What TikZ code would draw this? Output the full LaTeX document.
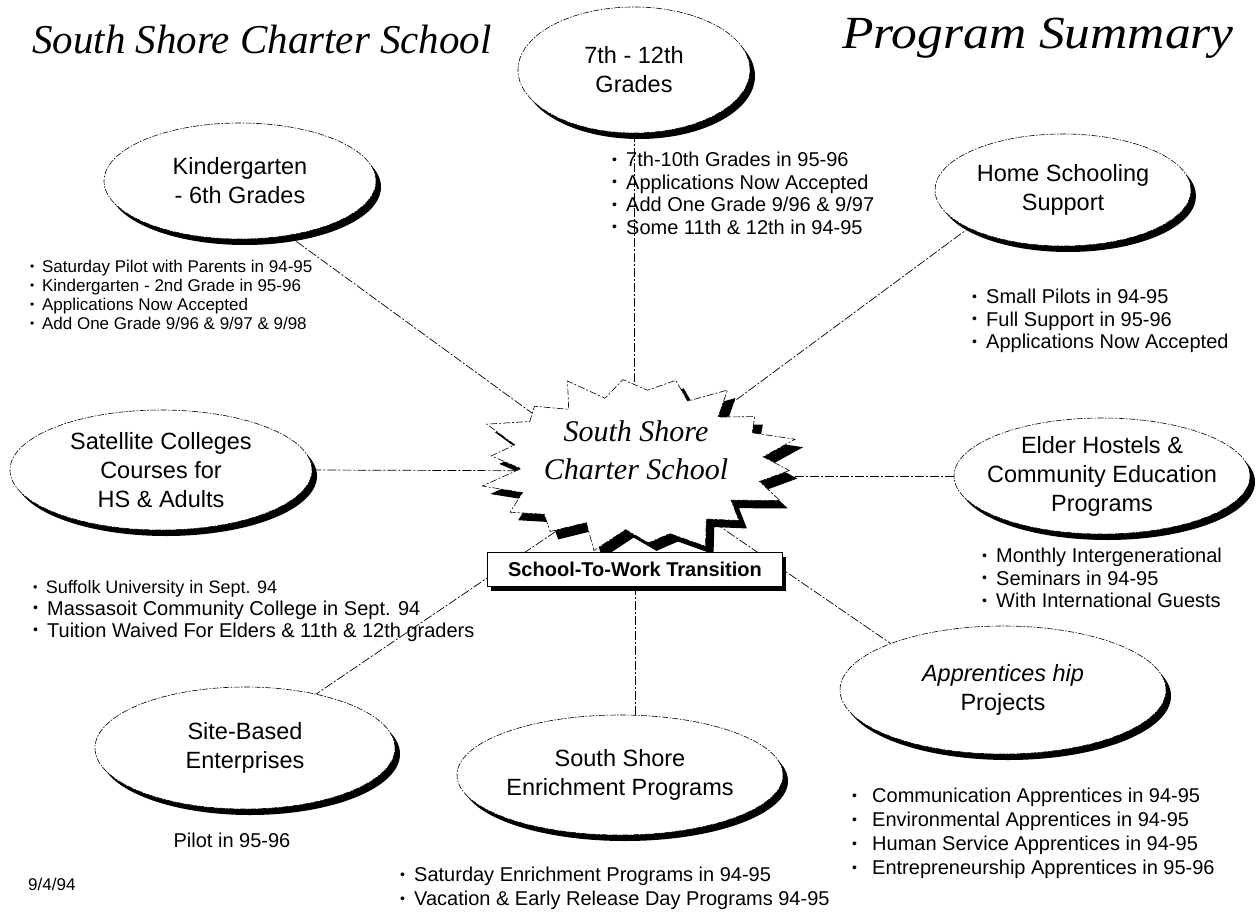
\documentclass[tikz,border=0pt]{standalone}
\usepackage{graphicx}
\usepackage{fontspec}
\setmainfont{Liberation Sans}
\newfontfamily\titlefont{Liberation Serif}
\usetikzlibrary{shapes.geometric,shadows,calc}
\pgfdeclarelayer{background}
\pgfsetlayers{background,main}
\newcommand\myfs[2]{\fontsize{#1}{#2}\selectfont}
\newcommand\bl{\makebox[0.7em][l]{\raisebox{0.12em}{\scalebox{0.7}{•}}}}
\begin{document}
\begin{tikzpicture}[x=1pt,y=-1pt,
  declare function={sf(\k)=ifthenelse(mod(\k,2)==1, 0.80+0.05*cos(\k*53), 1+0.07*sin(\k*77));},
  bub/.style={ellipse, draw=black, line width=0.6pt,
    dash pattern=on 6pt off 1.5pt on 1.5pt off 1.5pt, fill=white, align=center,
    inner xsep=-20pt, inner ysep=-10pt, font=\myfs{23.5}{29},
    general shadow={fill=black, shadow xshift=5pt, shadow yshift=-6pt}},
  lst/.style={anchor=north west, align=left, inner sep=0pt, font=\myfs{20}{22.5}},
  conn/.style={line width=0.7pt, dash pattern=on 9pt off 2pt on 2pt off 2pt},
  starline/.style={line width=0.6pt, dash pattern=on 7pt off 2pt on 2pt off 2pt}]
\useasboundingbox (0,0) rectangle (1260,912);
\begin{pgfonlayer}{background}
\fill[white] (0,0) rectangle (1260,912);
\end{pgfonlayer}

% titles
\node[anchor=west, inner sep=0, font=\titlefont\itshape\myfs{41}{41}] (title) at (32,40) {South Shore Charter School};
\node[anchor=east, inner sep=0, font=\titlefont\itshape\myfs{46}{46}] (ps) at (1234,38) {\scalebox{1.12}[1]{Program Summary}};

% ellipses
\node[bub, minimum width=232, minimum height=126] (g712) at (634,70) {7th - 12th\\Grades};
\node[bub, minimum width=272, minimum height=116] (kinder) at (240,181) {Kindergarten\\- 6th Grades};
\node[bub, minimum width=256, minimum height=112] (home) at (1063,190) {Home Schooling\\Support};
\node[bub, minimum width=302, minimum height=120] (sat) at (161,470) {Satellite Colleges\\Courses for\\HS \& Adults};
\node[bub, minimum width=296, minimum height=116] (elder) at (1102,476) {Elder Hostels \&\\Community Education\\Programs};
\node[bub, minimum width=300, minimum height=122] (site) at (245,748) {Site-Based\\Enterprises};
\node[bub, minimum width=326, minimum height=120] (enrich) at (620,775) {South Shore\\Enrichment Programs};
\node[bub, minimum width=326, minimum height=128] (appr) at (1003,690) {{\itshape Apprentices hip}\\Projects};

% star
\fill[black, shift={(8,8)}] plot[samples at={0,...,35}, variable=\k]
  ({636+154*sf(\k)*cos(10*\k+5)}, {463+86*sf(\k)*sin(10*\k+5)}) -- cycle;
\draw[starline, fill=white] plot[samples at={0,...,35}, variable=\k]
  ({636+154*sf(\k)*cos(10*\k+5)}, {463+86*sf(\k)*sin(10*\k+5)}) -- cycle;
\node[align=center, inner sep=0, font=\titlefont\itshape\myfs{30}{38}] (star) at (636,450) {South Shore\\Charter School};

% box
\node[draw, line width=0.6pt, fill=white, minimum width=295, minimum height=34, inner sep=0,
  font=\bfseries\myfs{20}{20},
  general shadow={fill=black, shadow xshift=3pt, shadow yshift=-5pt}] (box) at (635,569) {School-To-Work Transition};

% connector end points (hidden under the star / ellipses)
\coordinate (tK) at (580,448);
\coordinate (tH) at (690,434);
\coordinate (tS) at (600,471);
\coordinate (tE) at (680,476);
\coordinate (tSB) at (580,515);
\coordinate (tA) at (690,506);

\begin{pgfonlayer}{background}
\draw[conn] (g712.south) -- (g712.south |- star.center);
\draw[conn] ($(kinder.center)+(20,34)$) -- (tK);
\draw[conn] ($(home.center)+(-78,26)$) -- (tH);
\draw[conn] (sat.east) -- (tS);
\draw[conn] (elder.west) -- (tE);
\draw[conn] ($(site.center)+(55,-43)$) -- (tSB);
\draw[conn] (tA) -- ($(appr.center)+(-43,1)$);
\draw[conn] (box.south) -- (box.south |- enrich.center);
\end{pgfonlayer}

% lists
\node[lst, font=\myfs{17}{19}] (kl) at (30,260) {\bl Saturday Pilot with Parents in 94-95\\\bl Kindergarten - 2nd Grade in 95-96\\\bl Applications Now Accepted\\\bl Add One Grade 9/96 \& 9/97 \& 9/98};
\node[lst] (gl) at (612,152) {\bl 7th-10th Grades in 95-96\\\bl Applications Now Accepted\\\bl Add One Grade 9/96 \& 9/97\\\bl Some 11th \& 12th in 94-95};
\node[lst] (hl) at (972,289) {\bl Small Pilots in 94-95\\\bl Full Support in 95-96\\\bl Applications Now Accepted};
\node[lst, font=\myfs{20}{22}] (sl) at (33,580) {{\myfs{18}{22}\bl Suffolk University in Sept. 94}\\\bl Massasoit Community College in Sept. 94\\\bl Tuition Waived For Elders \& 11th \& 12th graders};
\node[lst] (el) at (982,548) {\bl Monthly Intergenerational\\\bl Seminars in 94-95\\\bl With International Guests};
\node[inner sep=0, font=\myfs{20}{22}] (sbl) at (232,840) {Pilot in 95-96};
\node[lst, font=\myfs{20}{24}] (al) at (852,788) {\bl\hspace{0.3em}Communication Apprentices in 94-95\\\bl\hspace{0.3em}Environmental Apprentices in 94-95\\\bl\hspace{0.3em}Human Service Apprentices in 94-95\\\bl\hspace{0.3em}Entrepreneurship Apprentices in 95-96};
\node[lst, font=\myfs{20}{24}] (enl) at (400,867) {\bl Saturday Enrichment Programs in 94-95\\\bl Vacation \& Early Release Day Programs 94-95};
\node[anchor=west, inner sep=0, font=\myfs{17}{17}] (date) at (28,884) {9/4/94};
\end{tikzpicture}
\end{document}
